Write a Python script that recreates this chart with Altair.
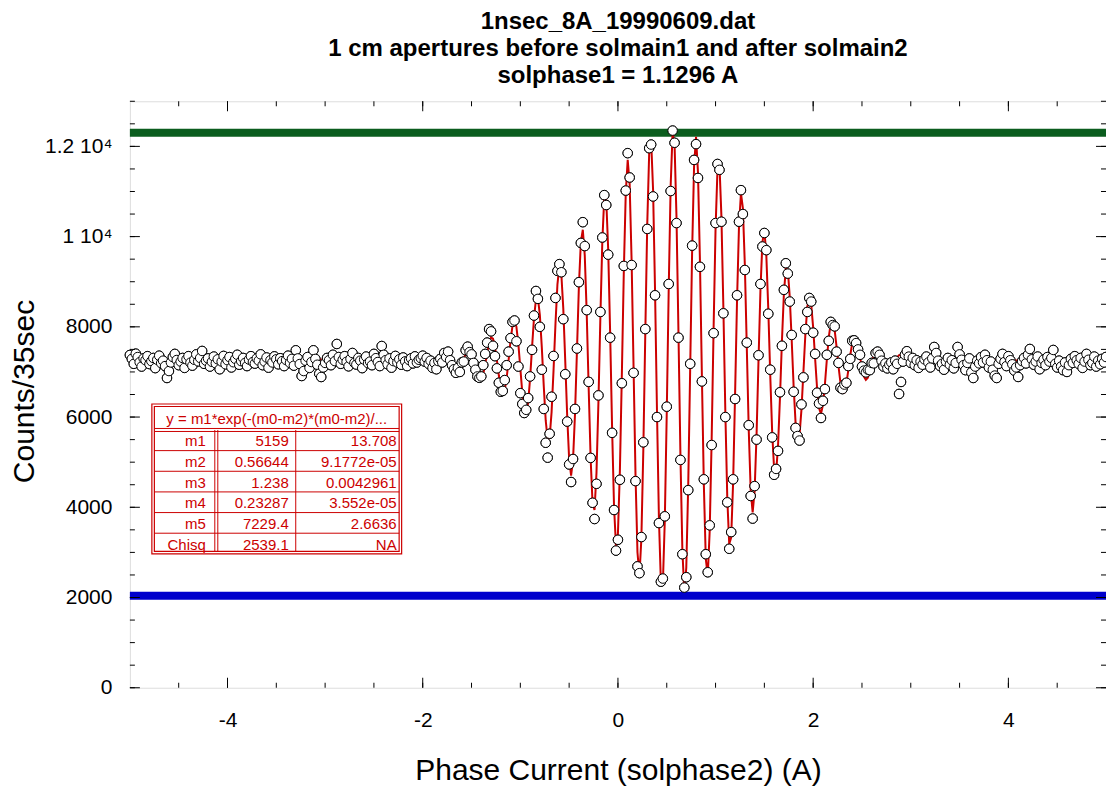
import altair as alt
import pandas as pd

FONT = "Liberation Sans"
W, H = 977, 587

title_lines = ["1nsec_8A_19990609.dat",
               "1 cm apertures before solmain1 and after solmain2",
               "solphase1 = 1.1296 A"]
x_title = "Phase Current (solphase2) (A)"
y_title = "Counts/35sec"

# measured counts, read left to right starting at x = -5.00, one reading every 0.02 A
X_START = -5.0
X_STEP = 0.02
counts = [
    # -5.00 .. -2.02
    7376, 7290, 7180, 7405, 7330, 7215, 7120, 7300, 7260, 7350,
    7175, 7240, 7310, 7085, 7270, 7360, 7195, 7250, 7130, 6866,
    7020, 7210, 7330, 7400, 7265, 7150, 7230, 7310, 7090, 7280,
    7350, 7205, 7140, 7270, 7390, 7235, 7310, 7465, 7180, 7250,
    7300, 7120, 7225, 7340, 7190, 7280, 7060, 7230, 7355, 7170,
    7260, 7330, 7100, 7215, 7290, 7380, 7160, 7240, 7310, 7200,
    7130, 7275, 7350, 7220, 7185, 7300, 7250, 7390, 7150, 7230,
    7320, 7095, 7260, 7210, 7345, 7280, 7170, 7305, 7240, 7130,
    7265, 7360, 7200, 7290, 7140, 7480, 7300, 7175, 6910, 7020,
    7250, 7330, 7090, 7220, 7480, 7290, 7160, 6960, 6888, 7100,
    7200, 7310, 7260, 7150, 7380, 7240, 7620, 7330, 7180, 7270,
    7350, 7225, 7125, 7290, 7420, 7200, 7165, 7310, 7250, 7085,
    7275, 7340, 7195, 7230, 7150, 7400, 7305, 7220, 7130, 7575,
    7380, 7260, 7170, 7300, 7095, 7240, 7355, 7210, 7280, 7160,
    7320, 7235, 7130, 7265, 7300, 7190, 7345, 7210, 7270, 7305,
    # -2.00 .. 3.10
    7360, 7230, 7310, 7180, 7250, 7090, 7200, 7060, 7240, 7290, 7210, 7420, 7330, 7450, 7260,
    7150, 7060, 6980, 7090, 7000, 7210, 7230, 7480, 7560, 7440, 7390, 7200, 7050, 6900, 6870,
    6900, 7150, 7400, 7650, 7950, 7900, 7580, 7350, 7080, 6760, 6560, 6580, 6820, 7150, 7450,
    7750, 8110, 8140, 7680, 7120, 6530, 6290, 6090, 6160, 6420, 6900, 7490, 8250, 8794, 8620,
    8000, 7050, 6180, 5430, 5100, 5630, 6450, 7354, 8640, 9240, 9390, 9210, 8170, 6950, 5900,
    4950, 4560, 5070, 6180, 7520, 8990, 9860, 10320, 9790, 8370, 6780, 5095, 4100, 3740, 4520,
    6480, 8330, 9980, 10920, 10700, 9600, 7760, 5650, 3940, 3040, 3280, 4610, 6750, 9350, 11020,
    11850, 11310, 9370, 6980, 4580, 2690, 2540, 3340, 5440, 7950, 10170, 11960, 12040, 10890, 8700,
    6000, 3650, 2350, 2420, 3800, 6230, 8950, 11010, 12350, 12080, 10300, 7760, 5050, 2960, 2220,
    2450, 4380, 7180, 9800, 11700, 12050, 11300, 9330, 6790, 4620, 2960, 2560, 3600, 5380, 7860,
    10300, 11610, 11480, 10330, 8300, 6000, 4110, 3080, 3450, 4620, 6400, 8700, 10330, 11030, 10500,
    9260, 7650, 5820, 4250, 3750, 4470, 5500, 7370, 8950, 9780, 10080, 9700, 8290, 7050, 5550,
    4720, 4850, 5250, 6550, 7580, 8820, 9410, 9180, 8560, 7820, 6560, 5760, 5580, 5480, 6280,
    6880, 7950, 8330, 8640, 8560, 7870, 7400, 6540, 6300, 5980, 6360, 6620, 7380, 7690, 8110,
    8040, 8010, 7450, 7200, 6650, 6620, 6720, 6760, 7130, 7290, 7690, 7700, 7640, 7500, 7380,
    7120, 7030, 6990, 7050, 7040, 7200, 7190, 7420, 7450, 7380, 7250, 7120, 7190, 7080, 7160,
    7210, 7060, 7250, 7180, 6512, 6778, 7230, 7380, 7460, 7340, 7200, 7310, 7150, 7260, 7090,
    7230,
    # 3.12 .. 5.00
    7160, 7280, 7340, 7210, 7100, 7300, 7553, 7420, 7250, 7130,
    7180, 7050, 7230, 7310, 7160, 7260, 7080, 7200, 7553, 7390,
    7270, 7150, 7040, 7200, 7300, 6990, 6866, 7120, 7250, 7190,
    7330, 7210, 7380, 7260, 7100, 7230, 7050, 6920, 6866, 7180,
    7290, 7400, 7220, 7130, 7350, 7260, 7170, 7030, 7100, 6889,
    7150, 7240, 7310, 7190, 7380, 7509, 7280, 7160, 7230, 7340,
    7060, 7200, 7270, 7150, 7330, 7230, 7310, 7487, 7180, 7100,
    7250, 7120, 7040, 7210, 7000, 7150, 7290, 7200, 7350, 7260,
    7180, 7310, 7090, 7230, 7400, 7270, 7150, 7200, 7340, 7120,
    7250, 7170, 7290, 7210, 7332,
]

# fitted curve, x = -2.00 .. 3.10 every 0.02 A
FIT_START = -2.0
fit_counts = [
    7299, 7299, 7277, 7236, 7188, 7147, 7124, 7132, 7170, 7231, 7300, 7356, 7381, 7361, 7300,
    7210, 7113, 7040, 7016, 7054, 7149, 7281, 7412, 7503, 7521, 7453, 7309, 7124, 6951, 6842,
    6838, 6953, 7163, 7416, 7638, 7762, 7736, 7555, 7257, 6921, 6649, 6520, 6595, 6866, 7269,
    7699, 8027, 8146, 7999, 7613, 7078, 6540, 6165, 6075, 6321, 6856, 7546, 8196, 8606, 8642,
    8263, 7546, 6686, 5925, 5495, 5547, 6105, 7026, 8070, 8938, 9352, 9170, 8410, 7250, 6022,
    5072, 4704, 5058, 6062, 7464, 8902, 9877, 10152, 9585, 8308, 6657, 5091, 4076, 3940, 4754,
    6322, 8212, 9898, 10873, 10821, 9723, 7877, 5764, 4014, 3137, 3419, 4819, 6941, 9210, 10963,
    11701, 11157, 9468, 7099, 4712, 3004, 2478, 3306, 5274, 7835, 10260, 11850, 12139, 11027, 8812,
    6121, 3739, 2314, 2294, 3705, 6094, 8830, 11126, 12311, 12048, 10415, 7873, 5167, 3048, 2129,
    2660, 4486, 7072, 9682, 11568, 12212, 11424, 9468, 6911, 4503, 2855, 2486, 3478, 5504, 7980,
    10177, 11504, 11595, 10448, 8432, 6142, 4209, 3186, 3327, 4555, 6503, 8583, 10216, 10962, 10631,
    9370, 7546, 5711, 4371, 3884, 4355, 5601, 7251, 8821, 9873, 10143, 9592, 8404, 6950, 5665,
    4850, 4756, 5359, 6437, 7684, 8729, 9302, 9267, 8664, 7707, 6672, 5859, 5471, 5598, 6164,
    6993, 7830, 8440, 8675, 8498, 7982, 7297, 6638, 6202, 6071, 6272, 6716, 7274, 7771, 8081,
    8132, 7931, 7553, 7117, 6751, 6544, 6545, 6734, 7040, 7370, 7634, 7762, 7732, 7568, 7327,
    7081, 6899, 6826, 6871, 7007, 7191, 7366, 7487, 7523, 7478, 7369, 7233, 7110, 7034, 7018,
    7061, 7145, 7243, 7327, 7373, 7376, 7339, 7275, 7208, 7154, 7125, 7130, 7160, 7206, 7252,
    7286,
]
FIT_LEVEL = 7229.4          # m5, level of the curve away from the centre
X_MIN, X_MAX = -5.0, 5.0

level_values = [12300, 2040]
level_colors = ["#0b5d1e", "#0000cc"]

x_label_values = [-4, -2, 0, 2, 4]
x_minor_values = [-4.5, -4.0, -3.5, -3.0, -2.5, -2.0, -1.5, -1.0, -0.5, 0.0,
                  0.5, 1.0, 1.5, 2.0, 2.5, 3.0, 3.5, 4.0, 4.5]
y_label_values = [0, 2000, 4000, 6000, 8000, 10000, 12000]
y_minor_values = [500 * k for k in range(27)]

fit_formula = "y = m1*exp(-(m0-m2)*(m0-m2)/..."
param_names = ["m1", "m2", "m3", "m4", "m5", "Chisq"]
param_values = ["5159", "0.56644", "1.238", "0.23287", "7229.4", "2539.1"]
param_errors = ["13.708", "9.1772e-05", "0.0042961", "3.552e-05", "2.6636", "NA"]

# ---------------------------------------------------------------- data frames
pts = pd.DataFrame({"x": [round(X_START + X_STEP * i, 2) for i in range(len(counts))],
                    "y": counts})
fit = pd.DataFrame({
    "x": [X_MIN] + [round(FIT_START + X_STEP * i, 2) for i in range(len(fit_counts))] + [X_MAX],
    "y": [FIT_LEVEL] + fit_counts + [FIT_LEVEL],
})
levels = pd.DataFrame({"v": level_values, "c": level_colors})

x_scale = alt.Scale(domain=[X_MIN, X_MAX], nice=False, zero=False)
y_scale = alt.Scale(domain=[0, 13000], nice=False, zero=False)

x_axis = alt.Axis(values=x_label_values, ticks=False, domain=False, grid=False,
                  labelExpr="'' + datum.value", labelFontSize=21, labelPadding=22,
                  labelColor="black", labelFont=FONT,
                  title=x_title, titleFontSize=30, titleFontWeight="normal", titleFont=FONT,
                  titleColor="black", titleX=W / 2, titleY=83, titleBaseline="middle")
y_axis = alt.Axis(values=y_label_values, ticks=False, domain=False, grid=False,
                  labelExpr="datum.value >= 10000 ? (datum.value / 10000) + ' 10\u2074' : '' + datum.value",
                  labelFontSize=21, labelPadding=18, labelColor="black", labelFont=FONT,
                  title=y_title, titleFontSize=30, titleFontWeight="normal", titleFont=FONT,
                  titleColor="black", titleX=-105, titleY=290, titleBaseline="middle")

XQ = lambda f: alt.X(f, type="quantitative", scale=x_scale, axis=x_axis)
YQ = lambda f: alt.Y(f, type="quantitative", scale=y_scale, axis=y_axis)

points = alt.Chart(pts).mark_circle(size=90, fill="white", stroke="black",
                                    strokeWidth=1, opacity=1).encode(x=XQ("x"), y=YQ("y"))
bars = alt.Chart(levels).mark_rule(strokeWidth=8).encode(
    y=YQ("v"), color=alt.Color("c:N", scale=None))
fit_line = alt.Chart(fit).mark_line(color="#cc0000", strokeWidth=2).encode(x=XQ("x"), y=YQ("y"))

ymaj = pd.DataFrame({"v": y_label_values})
ymin = pd.DataFrame({"v": y_minor_values})
xmaj = pd.DataFrame({"v": x_label_values})
xmin = pd.DataFrame({"v": x_minor_values})

def yticks(df, length):
    left = alt.Chart(df).mark_rule(color="black", strokeWidth=1).encode(
        y=YQ("v"), x=alt.value(0), x2=alt.value(length))
    right = alt.Chart(df).mark_rule(color="black", strokeWidth=1).encode(
        y=YQ("v"), x=alt.value(W), x2=alt.value(W - length))
    return [left, right]

def xticks(df, length):
    bottom = alt.Chart(df).mark_rule(color="black", strokeWidth=1).encode(
        x=XQ("v"), y=alt.value(H), y2=alt.value(H - length))
    top = alt.Chart(df).mark_rule(color="black", strokeWidth=1).encode(
        x=XQ("v"), y=alt.value(0), y2=alt.value(length))
    return [bottom, top]

tick_layers = yticks(ymin, 5) + yticks(ymaj, 10) + xticks(xmin, 5) + xticks(xmaj, 10)

# ---------------------------------------------------------------- fit table
# layout of the table in pixels inside the plot area
TL, TR, TT, TB = 22, 272, 303, 453
THB = 329
ROW_H = (TB - THB) / len(param_names)
RED = "#cc0000"

PX = lambda f: alt.X(f, type="quantitative", scale=None, axis=None)
PY = lambda f: alt.Y(f, type="quantitative", scale=None, axis=None)

boxes = pd.DataFrame({"x": [TL, TL + 2.5], "x2": [TR, TR - 2.5],
                      "y": [TT, TT + 2.5], "y2": [TB, TB - 2.5]})
table_bg = alt.Chart(boxes.iloc[[0]]).mark_rect(fill="white").encode(
    x=PX("x"), x2="x2", y=PY("y"), y2="y2")
table_box = alt.Chart(boxes).mark_rect(fill=None, stroke=RED, strokeWidth=1.2).encode(
    x=PX("x"), x2="x2", y=PY("y"), y2="y2")

hl = pd.DataFrame({"y": [THB - 1.5, THB + 1.5] + [THB + ROW_H * k for k in range(1, len(param_names))]})
hl["x"], hl["x2"] = TL + 2.5, TR - 2.5
table_h = alt.Chart(hl).mark_rule(color=RED, strokeWidth=1).encode(
    x=PX("x"), x2="x2", y=PY("y"))
vl = pd.DataFrame({"x": [85, 88, 166]})
vl["y"], vl["y2"] = THB, TB - 2.5
table_v = alt.Chart(vl).mark_rule(color=RED, strokeWidth=1).encode(
    x=PX("x"), y=PY("y"), y2="y2")

rows = pd.DataFrame({"name": param_names, "val": param_values, "err": param_errors})
rows["yc"] = [THB + ROW_H * (i + 0.5) + 1 for i in range(len(rows))]
rows["xn"], rows["xv"], rows["xe"] = 76, 159, 267

def col_text(field, xfield):
    return alt.Chart(rows).mark_text(align="right", baseline="middle", fontSize=15,
                                     font=FONT, color=RED).encode(
        x=PX(xfield), y=PY("yc"), text=alt.Text(field + ":N"))

head = pd.DataFrame({"t": [fit_formula], "x": [(TL + TR) / 2], "y": [(TT + THB) / 2 + 2]})
table_head = alt.Chart(head).mark_text(align="center", baseline="middle", fontSize=15,
                                       font=FONT, color=RED).encode(
    x=PX("x"), y=PY("y"), text="t:N")

table_layers = [table_bg, table_box, table_h, table_v, table_head,
                col_text("name", "xn"), col_text("val", "xv"), col_text("err", "xe")]

chart = alt.layer(points, bars, fit_line, points, *tick_layers, *table_layers).properties(
    width=W, height=H,
    title=alt.TitleParams(text=title_lines, fontSize=24, fontWeight="bold", font=FONT,
                          color="black", anchor="middle", lineHeight=27, offset=12.5),
    padding={"left": 122, "top": 93, "right": 0, "bottom": 101},
    autosize=alt.AutoSizeParams(type="none"),
    background="white",
).configure_view(stroke="#111111", strokeWidth=1.4).configure(font=FONT)

chart.save("out.html", embed_options={"renderer": "svg", "actions": False})
